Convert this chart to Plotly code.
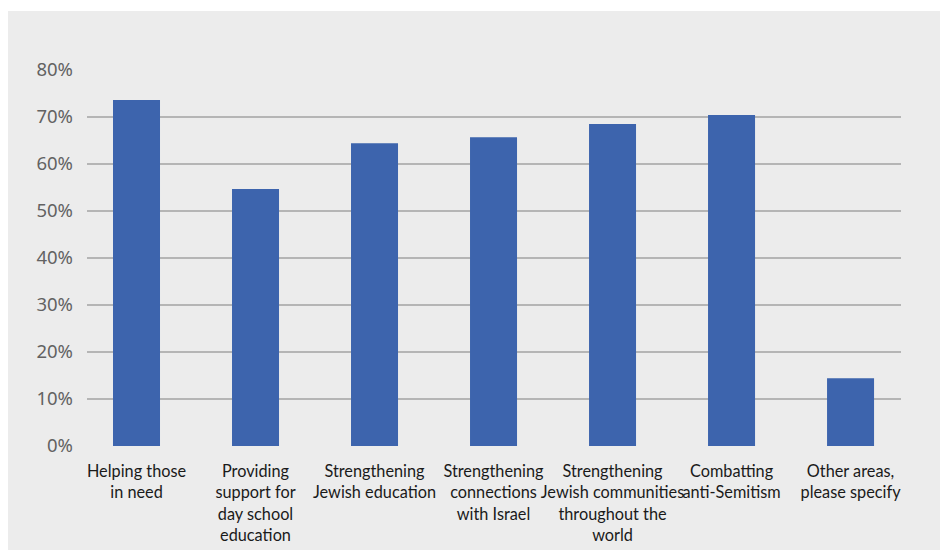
import plotly.graph_objects as go

categories = [
    "Helping those<br>in need",
    "Providing<br>support for<br>day school<br>education",
    "Strengthening<br>Jewish education",
    "Strengthening<br>connections<br>with Israel",
    "Strengthening<br>Jewish communities<br>throughout the<br>world",
    "Combatting<br>anti-Semitism",
    "Other areas,<br>please specify",
]
values = [73.6, 54.7, 64.4, 65.7, 68.5, 70.4, 14.4]
y_ticks = [0, 10, 20, 30, 40, 50, 60, 70, 80]
y_tick_labels = [f"{v}%" for v in y_ticks]

x_idx = list(range(len(categories)))

fig = go.Figure(
    go.Bar(
        x=x_idx,
        y=values,
        width=0.395,
        marker=dict(color="#3d64ad", line=dict(width=0)),
        hoverinfo="skip",
    )
)

BG = "#ececec"

fig.update_layout(
    width=940,
    height=542,
    margin=dict(l=79, r=47, t=62, b=104),
    paper_bgcolor="white",
    plot_bgcolor=BG,
    showlegend=False,
    shapes=[
        dict(
            type="rect", xref="paper", yref="paper",
            x0=-79 / 814, x1=1.2, y0=-0.4, y1=(438 - 3) / 376,
            fillcolor=BG, line=dict(width=0), layer="below",
        )
    ],
    xaxis=dict(
        tickmode="array",
        tickvals=x_idx,
        ticktext=categories,
        range=[-0.416, 6.424],
        showgrid=False,
        zeroline=False,
        showline=False,
        ticks="",
        automargin=False,
        ticklabelstandoff=14,
        tickfont=dict(family="Lato", size=16.3, color="#1a1a1a"),
        tickangle=0,
    ),
    yaxis=dict(
        range=[0, 80],
        tickmode="array",
        tickvals=y_ticks,
        ticktext=y_tick_labels,
        showgrid=True,
        gridcolor="#b5b5b5",
        gridwidth=2,
        zeroline=False,
        showline=False,
        ticks="",
        automargin=False,
        ticklabelstandoff=13,
        tickfont=dict(family="Noto Sans", size=18.5, color="#626262"),
    ),
    font=dict(family="Lato"),
)

fig.write_html("out.html")
